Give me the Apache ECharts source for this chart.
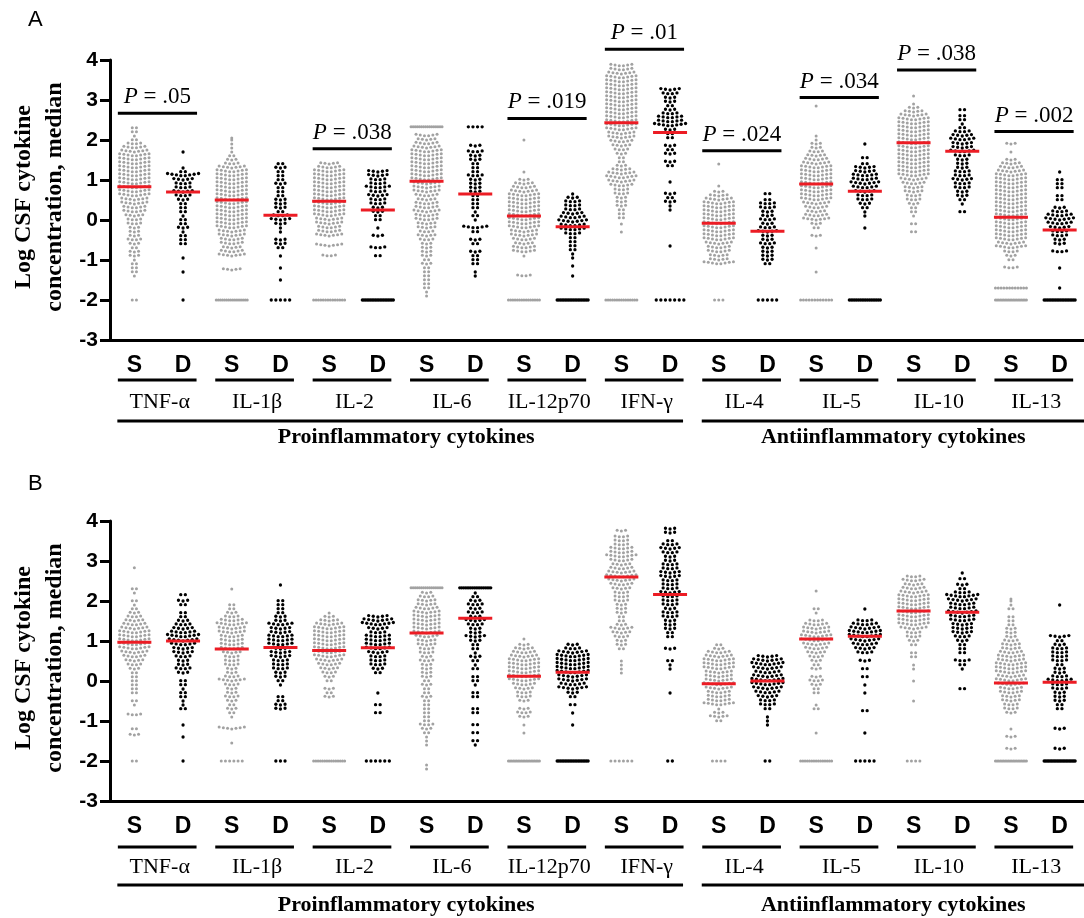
<!DOCTYPE html>
<html><head><meta charset="utf-8">
<script src="https://cdn.jsdelivr.net/npm/echarts@6/dist/echarts.min.js"></script>
<style>html,body{margin:0;padding:0;background:#fff}#c{width:1084px;height:918px}</style>
</head><body><div id="c"></div><script>
// ---------- DATA ----------
const cytokines = ['TNF-α','IL-1β','IL-2','IL-6','IL-12p70','IFN-γ','IL-4','IL-5','IL-10','IL-13'];
const groupLabels = ['S','D'];
const classNames = ['Proinflammatory cytokines','Antiinflammatory cytokines'];
const classStart = [0, 6];
const classEnd = [5, 9];
const yMin = -3, yMax = 4;
const lowerLimit = -2, upperLimit = 2.33;

// each row: [log value, number of dots at that level]
const A_TNF_S=[[2.3,2],[2.2,2],[2.1,1],[2.0,2],[1.9,4],[1.8,6],[1.7,7],[1.6,8],[1.5,8],[1.4,8],[1.3,8],[1.2,8],[1.1,8],[1.0,8],[0.9,8],[0.8,8],[0.7,8],[0.6,8],[0.5,7],[0.4,7],[0.3,6],[0.2,6],[0.1,5],[0,4],[-0.1,4],[-0.2,3],[-0.3,3],[-0.4,3],[-0.5,4],[-0.6,3],[-0.7,2],[-0.8,3],[-0.9,3],[-1.0,1],[-1.1,2],[-1.2,2],[-1.3,2],[-1.4,1],[-2,2]];
const A_TNF_D=[[1.7,1],[1.3,1],[1.2,2],[1.1,8],[1.0,5],[0.9,4],[0.8,4],[0.7,5],[0.6,4],[0.5,3],[0.4,2],[0.3,2],[0.2,2],[0.1,1],[0,2],[-0.1,2],[-0.2,3],[-0.3,1],[-0.4,2],[-0.5,2],[-0.6,2],[-0.95,1],[-1.3,1],[-2,1]];
const A_IL1B_S=[[2.05,1],[2.0,1],[1.9,1],[1.8,1],[1.7,1],[1.6,2],[1.5,3],[1.4,4],[1.3,7],[1.2,8],[1.1,8],[1.0,8],[0.9,8],[0.8,8],[0.7,8],[0.6,8],[0.5,8],[0.4,8],[0.3,8],[0.2,8],[0.1,8],[0,8],[-0.1,8],[-0.2,8],[-0.3,7],[-0.4,7],[-0.5,6],[-0.6,6],[-0.7,5],[-0.8,6],[-0.9,7],[-1.25,5],[-2,16]];
const A_IL1B_D=[[1.4,2],[1.3,3],[1.2,2],[1.1,2],[1.0,2],[0.9,3],[0.8,2],[0.7,2],[0.6,2],[0.5,3],[0.4,3],[0.3,3],[0.2,2],[0.1,4],[0,5],[-0.1,3],[-0.2,1],[-0.3,1],[-0.5,3],[-0.6,3],[-0.7,2],[-0.9,1],[-1.2,1],[-1.5,1],[-2,5]];
const A_IL2_S=[[1.4,5],[1.3,6],[1.2,8],[1.1,8],[1.0,8],[0.9,8],[0.8,8],[0.7,8],[0.6,8],[0.5,8],[0.4,8],[0.3,8],[0.2,8],[0.1,8],[0,7],[-0.1,7],[-0.2,6],[-0.3,6],[-0.4,7],[-0.65,7],[-0.9,4],[-2,14]];
const A_IL2_D=[[1.2,5],[1.1,5],[1.0,4],[0.9,4],[0.8,6],[0.7,4],[0.6,5],[0.5,4],[0.4,4],[0.3,3],[0.2,3],[0.1,2],[0,2],[-0.2,1],[-0.4,3],[-0.7,4],[-0.9,2],[-2,20]];
const A_IL6_S=[[2.33,16],[2.1,6],[2.0,5],[1.9,6],[1.8,7],[1.7,8],[1.6,8],[1.5,8],[1.4,8],[1.3,8],[1.2,8],[1.1,8],[1.0,8],[0.9,7],[0.8,7],[0.7,7],[0.6,6],[0.5,5],[0.4,6],[0.3,6],[0.2,7],[0.1,6],[0,6],[-0.1,5],[-0.2,5],[-0.3,4],[-0.4,5],[-0.5,4],[-0.6,3],[-0.7,3],[-0.8,3],[-0.9,3],[-1.0,2],[-1.1,3],[-1.2,2],[-1.3,2],[-1.4,2],[-1.5,2],[-1.6,2],[-1.7,2],[-1.8,1],[-1.9,1]];
const A_IL6_D=[[2.33,4],[1.85,3],[1.7,4],[1.6,3],[1.5,3],[1.4,2],[1.3,2],[1.2,2],[1.1,4],[1.0,3],[0.9,3],[0.8,3],[0.7,3],[0.6,2],[0.5,2],[0.4,2],[0.3,2],[0.2,1],[0.1,2],[0,1],[-0.2,6],[-0.3,2],[-0.5,3],[-0.6,2],[-0.8,3],[-0.9,2],[-1.0,2],[-1.1,2],[-1.3,1],[-1.4,1]];
const A_IL12_S=[[2.0,1],[1.2,1],[1.0,3],[0.9,5],[0.8,6],[0.7,7],[0.6,8],[0.5,8],[0.4,8],[0.3,8],[0.2,8],[0.1,8],[0,8],[-0.1,8],[-0.2,8],[-0.3,7],[-0.4,7],[-0.5,6],[-0.6,5],[-0.7,6],[-0.8,6],[-0.9,1],[-1.4,4],[-2,15]];
const A_IL12_D=[[0.65,1],[0.55,3],[0.45,4],[0.35,4],[0.25,4],[0.15,5],[0.05,6],[-0.05,7],[-0.15,6],[-0.25,6],[-0.35,4],[-0.45,2],[-0.55,2],[-0.65,2],[-0.75,2],[-0.85,1],[-0.95,1],[-1.15,1],[-1.4,1],[-2,20]];
const A_IFNG_S=[[3.85,6],[3.75,6],[3.65,7],[3.55,8],[3.45,8],[3.35,8],[3.25,8],[3.15,8],[3.05,8],[2.95,8],[2.85,8],[2.75,8],[2.65,8],[2.55,8],[2.45,8],[2.35,8],[2.25,8],[2.15,7],[2.05,7],[1.95,6],[1.85,5],[1.75,4],[1.65,3],[1.55,2],[1.45,2],[1.35,3],[1.25,5],[1.15,7],[1.05,8],[0.95,7],[0.85,6],[0.75,4],[0.65,4],[0.55,3],[0.45,3],[0.35,3],[0.25,2],[0.15,2],[0.05,2],[-0.1,1],[-0.3,1],[-2,15]];
const A_IFNG_D=[[3.25,5],[3.15,4],[3.05,3],[2.95,3],[2.85,2],[2.75,3],[2.65,4],[2.55,6],[2.45,6],[2.35,8],[2.25,3],[2.15,2],[2.05,2],[1.85,3],[1.75,2],[1.65,3],[1.45,3],[1.35,2],[0.95,1],[0.65,3],[0.55,2],[0.45,3],[0.35,1],[0.25,1],[-0.65,1],[-2,7]];
const A_IL4_S=[[1.4,1],[0.85,1],[0.7,3],[0.6,5],[0.5,7],[0.4,8],[0.3,8],[0.2,8],[0.1,8],[0,8],[-0.1,8],[-0.2,8],[-0.3,8],[-0.4,8],[-0.5,8],[-0.6,7],[-0.7,6],[-0.8,6],[-0.9,5],[-1.0,5],[-1.1,8],[-2,3]];
const A_IL4_D=[[0.65,2],[0.5,2],[0.4,4],[0.3,4],[0.2,3],[0.1,3],[0,4],[-0.1,3],[-0.2,4],[-0.3,5],[-0.4,3],[-0.5,3],[-0.6,4],[-0.7,3],[-0.8,3],[-0.9,3],[-1.0,3],[-1.1,2],[-2,5]];
const A_IL5_S=[[2.85,1],[2.1,1],[2.0,1],[1.9,3],[1.8,3],[1.7,4],[1.6,5],[1.5,6],[1.4,7],[1.3,8],[1.2,8],[1.1,8],[1.0,8],[0.9,8],[0.8,8],[0.7,8],[0.6,8],[0.5,8],[0.4,7],[0.3,6],[0.2,5],[0.1,6],[0,7],[-0.1,3],[-0.2,2],[-0.4,3],[-0.7,1],[-1.3,1],[-2,12]];
const A_IL5_D=[[1.9,1],[1.55,2],[1.4,2],[1.3,5],[1.2,5],[1.1,6],[1.0,6],[0.9,7],[0.8,6],[0.7,5],[0.6,4],[0.5,4],[0.4,3],[0.3,2],[0.2,1],[0.1,1],[-0.2,1],[-2,18]];
const A_IL10_S=[[3.1,1],[2.9,1],[2.8,3],[2.7,5],[2.6,7],[2.5,8],[2.4,8],[2.3,8],[2.2,8],[2.1,8],[2.0,8],[1.9,8],[1.8,8],[1.7,8],[1.6,8],[1.5,8],[1.4,8],[1.3,8],[1.2,8],[1.1,8],[1.0,7],[0.9,6],[0.8,5],[0.7,5],[0.6,4],[0.5,4],[0.4,3],[0.3,2],[0.2,2],[0.1,1],[-0.1,2],[-0.3,2]];
const A_IL10_D=[[2.75,2],[2.6,2],[2.5,2],[2.4,1],[2.3,2],[2.2,4],[2.1,5],[2.0,6],[1.9,5],[1.8,5],[1.7,6],[1.6,4],[1.5,3],[1.4,3],[1.3,3],[1.2,4],[1.1,4],[1.0,5],[0.9,4],[0.8,4],[0.7,3],[0.6,3],[0.5,2],[0.4,1],[0.2,2]];
const A_IL13_S=[[1.9,3],[1.7,1],[1.5,3],[1.4,5],[1.3,6],[1.2,7],[1.1,8],[1.0,8],[0.9,8],[0.8,8],[0.7,8],[0.6,8],[0.5,8],[0.4,8],[0.3,8],[0.2,8],[0.1,8],[0,8],[-0.1,8],[-0.2,8],[-0.3,8],[-0.4,8],[-0.5,8],[-0.6,7],[-0.7,8],[-0.8,4],[-0.9,3],[-1.0,2],[-1.2,4],[-1.7,12],[-2,20]];
const A_IL13_D=[[1.2,1],[1.0,2],[0.9,2],[0.8,2],[0.6,2],[0.5,2],[0.3,3],[0.2,4],[0.1,6],[0,7],[-0.1,6],[-0.2,5],[-0.3,4],[-0.4,4],[-0.5,3],[-0.6,3],[-0.8,4],[-1.2,1],[-1.7,1],[-2,20]];

const B_TNF_S=[[2.83,1],[2.3,2],[2.2,1],[2.0,2],[1.9,1],[1.8,2],[1.7,3],[1.6,4],[1.5,5],[1.4,6],[1.3,7],[1.2,8],[1.1,8],[1.0,8],[0.9,8],[0.8,8],[0.7,7],[0.6,6],[0.5,5],[0.4,4],[0.3,3],[0.2,2],[0.1,2],[0,2],[-0.1,2],[-0.2,2],[-0.3,2],[-0.5,2],[-0.6,1],[-0.85,4],[-1.2,2],[-1.35,3],[-2,2]];
const B_TNF_D=[[2.15,2],[2.0,3],[1.9,2],[1.7,2],[1.6,2],[1.5,3],[1.4,4],[1.3,5],[1.2,6],[1.1,8],[1.0,7],[0.9,6],[0.8,5],[0.7,5],[0.6,4],[0.5,3],[0.4,3],[0.3,4],[0.2,3],[0,2],[-0.1,2],[-0.2,1],[-0.3,2],[-0.4,2],[-0.5,1],[-0.6,1],[-0.7,2],[-1.1,1],[-1.4,1],[-2,1]];
const B_IL1B_S=[[2.3,1],[1.9,2],[1.8,2],[1.7,3],[1.6,4],[1.5,6],[1.4,8],[1.3,7],[1.2,7],[1.1,6],[1.0,6],[0.9,6],[0.8,6],[0.7,5],[0.6,4],[0.5,4],[0.4,4],[0.3,3],[0.2,3],[0.1,4],[0,7],[-0.1,4],[-0.2,3],[-0.3,3],[-0.4,4],[-0.5,3],[-0.6,2],[-0.7,3],[-0.8,2],[-0.9,1],[-1.2,7],[-1.55,1],[-2,6]];
const B_IL1B_D=[[2.4,1],[2.0,2],[1.9,2],[1.8,2],[1.7,2],[1.6,3],[1.5,3],[1.4,6],[1.3,5],[1.2,5],[1.1,6],[1.0,6],[0.9,6],[0.8,5],[0.7,5],[0.6,5],[0.5,4],[0.4,4],[0.3,4],[0.2,3],[0.1,3],[0,2],[-0.1,1],[-0.4,2],[-0.5,2],[-0.6,3],[-0.7,3],[-2,3]];
const B_IL2_S=[[1.7,1],[1.6,3],[1.5,5],[1.4,7],[1.3,8],[1.2,8],[1.1,8],[1.0,8],[0.9,8],[0.8,8],[0.7,8],[0.6,8],[0.5,7],[0.4,6],[0.3,5],[0.2,4],[0.1,3],[0,2],[-0.2,3],[-0.3,2],[-0.4,3],[-2,15]];
const B_IL2_D=[[1.6,5],[1.5,7],[1.4,8],[1.3,5],[1.2,4],[1.1,6],[1.0,6],[0.9,6],[0.8,6],[0.7,5],[0.6,4],[0.5,4],[0.4,4],[0.3,3],[0.2,2],[-0.3,1],[-0.6,2],[-0.8,2],[-2,6]];
const B_IL6_S=[[2.33,16],[2.2,3],[2.1,4],[2.0,5],[1.9,5],[1.8,6],[1.7,7],[1.6,7],[1.5,7],[1.4,7],[1.3,7],[1.2,7],[1.1,6],[1.0,5],[0.9,5],[0.8,4],[0.7,4],[0.6,3],[0.5,4],[0.4,3],[0.3,3],[0.2,3],[0.1,3],[0,2],[-0.1,3],[-0.2,2],[-0.3,2],[-0.4,3],[-0.5,2],[-0.6,2],[-0.7,2],[-0.8,2],[-0.9,2],[-1.0,2],[-1.1,4],[-1.2,3],[-1.3,2],[-1.4,1],[-1.5,1],[-1.6,1],[-2.1,1],[-2.2,1]];
const B_IL6_D=[[2.33,18],[2.2,1],[2.1,2],[2.0,3],[1.9,4],[1.8,3],[1.7,4],[1.6,3],[1.5,5],[1.4,4],[1.3,3],[1.2,3],[1.1,5],[1.0,3],[0.9,2],[0.8,2],[0.7,1],[0.6,3],[0.5,2],[0.4,1],[0.3,2],[0.1,2],[0,2],[-0.1,1],[-0.3,2],[-0.4,2],[-0.7,2],[-0.8,2],[-1.1,2],[-1.3,2],[-1.5,2],[-1.6,1]];
const B_IL12_S=[[1.05,1],[0.9,3],[0.8,5],[0.7,6],[0.6,7],[0.5,8],[0.4,8],[0.3,8],[0.2,8],[0.1,8],[0,8],[-0.1,6],[-0.2,5],[-0.3,4],[-0.4,4],[-0.5,3],[-0.7,3],[-0.8,4],[-0.9,3],[-1.1,1],[-1.3,1],[-2,20]];
const B_IL12_D=[[0.9,3],[0.8,4],[0.7,7],[0.6,8],[0.5,8],[0.4,8],[0.3,8],[0.2,8],[0.1,7],[0,7],[-0.1,6],[-0.2,7],[-0.3,3],[-0.4,2],[-0.6,2],[-0.8,1],[-1.1,1],[-2,20]];
const B_IFNG_S=[[3.75,3],[3.6,4],[3.5,4],[3.4,4],[3.3,6],[3.2,6],[3.1,8],[3.0,6],[2.9,5],[2.8,6],[2.7,7],[2.6,8],[2.5,7],[2.4,6],[2.3,5],[2.2,4],[2.1,4],[2.0,4],[1.9,3],[1.8,3],[1.7,3],[1.6,2],[1.5,2],[1.4,3],[1.3,6],[1.2,5],[1.1,4],[1.0,3],[0.9,3],[0.8,2],[0.5,1],[0.4,1],[0.3,1],[0.2,1],[-2,6]];
const B_IFNG_D=[[3.8,3],[3.7,3],[3.5,2],[3.4,4],[3.3,5],[3.2,4],[3.1,3],[3.0,3],[2.9,4],[2.8,4],[2.7,5],[2.6,5],[2.5,4],[2.4,4],[2.3,4],[2.2,5],[2.1,4],[2.0,4],[1.9,4],[1.8,3],[1.7,4],[1.6,4],[1.5,3],[1.4,3],[1.3,3],[1.2,2],[1.1,2],[0.8,3],[0.5,2],[0.4,1],[0.3,1],[-0.3,1],[-2,2]];
const B_IL4_S=[[0.9,2],[0.8,3],[0.7,6],[0.6,7],[0.5,8],[0.4,8],[0.3,8],[0.2,7],[0.1,7],[0,7],[-0.1,8],[-0.2,7],[-0.3,6],[-0.4,6],[-0.5,6],[-0.6,8],[-0.7,1],[-0.8,3],[-0.9,5],[-1.0,2],[-2,4]];
const B_IL4_D=[[0.6,5],[0.5,7],[0.4,8],[0.3,7],[0.2,6],[0.1,7],[0,8],[-0.1,8],[-0.2,7],[-0.3,6],[-0.4,5],[-0.5,4],[-0.6,4],[-0.7,2],[-0.9,1],[-1.0,1],[-1.1,1],[-2,2]];
const B_IL5_S=[[2.25,1],[1.8,2],[1.7,1],[1.5,4],[1.4,6],[1.3,7],[1.2,7],[1.1,8],[1.0,8],[0.9,7],[0.8,6],[0.7,5],[0.6,4],[0.5,3],[0.4,2],[0.3,3],[0.1,3],[0,4],[-0.1,3],[-0.2,2],[-0.3,2],[-0.6,1],[-0.7,2],[-1.3,1],[-2,15]];
const B_IL5_D=[[1.8,1],[1.5,4],[1.4,6],[1.3,7],[1.2,8],[1.1,8],[1.0,7],[0.9,6],[0.8,5],[0.7,4],[0.5,3],[0.3,2],[0.1,2],[-0.1,1],[-0.3,1],[-0.75,2],[-1.3,1],[-2,5]];
const B_IL10_S=[[2.6,4],[2.5,6],[2.4,5],[2.3,6],[2.2,7],[2.1,8],[2.0,8],[1.9,8],[1.8,8],[1.7,8],[1.6,8],[1.5,8],[1.4,8],[1.3,7],[1.2,4],[1.1,4],[1.0,3],[0.9,2],[0.7,2],[0.6,2],[0.4,1],[0.3,1],[0,1],[-0.5,1],[-2,4]];
const B_IL10_D=[[2.7,1],[2.55,2],[2.4,3],[2.3,2],[2.2,4],[2.1,8],[2.0,7],[1.9,6],[1.8,6],[1.7,7],[1.6,6],[1.5,6],[1.4,5],[1.3,5],[1.2,5],[1.1,4],[1.0,3],[0.9,2],[0.8,2],[0.7,2],[0.5,4],[0.4,2],[0.3,1],[-0.2,2]];
const B_IL13_S=[[2.05,1],[2.0,1],[1.9,1],[1.8,2],[1.6,2],[1.5,2],[1.4,2],[1.3,3],[1.2,3],[1.1,3],[1.0,4],[0.9,5],[0.8,5],[0.7,6],[0.6,7],[0.5,7],[0.4,8],[0.3,8],[0.2,8],[0.1,7],[0,8],[-0.1,7],[-0.2,6],[-0.3,6],[-0.4,5],[-0.5,5],[-0.6,4],[-0.7,4],[-0.8,3],[-1.2,1],[-1.4,3],[-1.7,3],[-2,20]];
const B_IL13_D=[[1.9,1],[1.1,5],[1.0,2],[0.9,3],[0.8,4],[0.7,4],[0.6,4],[0.5,4],[0.4,2],[0.3,3],[0.2,3],[0.1,4],[0,6],[-0.1,4],[-0.2,4],[-0.3,3],[-0.4,3],[-0.5,3],[-0.6,2],[-0.7,2],[-1.2,3],[-1.7,3],[-2,22]];

// medians (red bars)
const medianA_S = [0.83,0.50,0.47,0.97,0.10,2.43,-0.08,0.90,1.93,0.07];
const medianA_D = [0.70,0.12,0.25,0.65,-0.17,2.19,-0.28,0.72,1.72,-0.25];
const medianB_S = [0.97,0.80,0.76,1.20,0.12,2.60,-0.07,1.05,1.75,-0.05];
const medianB_D = [1.00,0.84,0.83,1.57,0.22,2.16,0.00,1.12,1.72,-0.03];

// P-value annotations (panel A): cytokine index, text, bar level (log units)
const pCyto = [0,2,4,5,6,7,8,9];
const pText = ['.05','.038','.019','.01','.024','.034','.038','.002'];
const pLevel = [2.67,1.78,2.54,4.27,1.73,3.06,3.75,2.21];

// ---------- CHART ----------
const SERIF = '"Liberation Serif","Times New Roman",serif';
const SANS = '"Liberation Sans",Arial,sans-serif';
const xCats = [];
cytokines.forEach(() => groupLabels.forEach(g => xCats.push(g)));

const panels = [
  {S:[A_TNF_S,A_IL1B_S,A_IL2_S,A_IL6_S,A_IL12_S,A_IFNG_S,A_IL4_S,A_IL5_S,A_IL10_S,A_IL13_S],
   D:[A_TNF_D,A_IL1B_D,A_IL2_D,A_IL6_D,A_IL12_D,A_IFNG_D,A_IL4_D,A_IL5_D,A_IL10_D,A_IL13_D],
   medS:medianA_S, medD:medianA_D, top:60, off:{u:40,n:62,l:81,g:97}, letter:'A', letterY:19},
  {S:[B_TNF_S,B_IL1B_S,B_IL2_S,B_IL6_S,B_IL12_S,B_IFNG_S,B_IL4_S,B_IL5_S,B_IL10_S,B_IL13_S],
   D:[B_TNF_D,B_IL1B_D,B_IL2_D,B_IL6_D,B_IL12_D,B_IFNG_D,B_IL4_D,B_IL5_D,B_IL10_D,B_IL13_D],
   medS:medianB_S, medD:medianB_D, top:521, off:{u:46,n:66,l:84,g:104}, letter:'B', letterY:483}
];

function dotRender(params, api) {
  const xi = api.value(0), v = api.value(1), n = api.value(2), dark = api.value(3);
  const c = api.coord([xi, v]);
  const base = dark ? 4.6 : 4.2;
  const step = n > 1 ? Math.min(base, 31 / (n - 1)) : 0;
  const r = dark ? 1.65 : 1.5;
  const fill = dark ? '#000' : '#a2a2a2';
  const children = [];
  const atLimit = Math.abs(v - lowerLimit) < 1e-6 || Math.abs(v - upperLimit) < 1e-6;
  const bow = (n <= 8 && !atLimit) ? 0.16 : 0;
  for (let k = 0; k < n; k++) {
    const dx = (k - (n - 1) / 2) * step;
    children.push({type:'circle', shape:{cx:c[0] + dx, cy:c[1] - Math.abs(dx) * bow, r:r}, style:{fill:fill}});
  }
  return {type:'group', children:children};
}
function medRender(params, api) {
  const c = api.coord([api.value(0), api.value(1)]);
  return {type:'rect', shape:{x:c[0]-17, y:c[1]-1.5, width:34, height:3}, style:{fill:'#ec1c24'}};
}
function pRender(params, api) {
  const ci = api.value(2);
  const a = api.coord([2*ci, api.value(1)]);
  const b = api.coord([2*ci+1, api.value(1)]);
  const x0 = a[0]-16.5, x1 = b[0]+14;
  return {type:'group', children:[
    {type:'rect', shape:{x:x0, y:a[1]-1.5, width:x1-x0, height:3}, style:{fill:'#000'}},
    {type:'text', x:(x0+x1)/2, y:a[1]-16, style:{
      text:'{i|P}{n| = ' + pText[params.dataIndex] + '}',
      align:'center', verticalAlign:'middle',
      rich:{i:{fontFamily:SERIF, fontSize:23, fontStyle:'italic', fill:'#000'},
            n:{fontFamily:SERIF, fontSize:23, fill:'#000'}}}}
  ]};
}
function makeDecor(off) {
  return function(params, api) {
    const ci = api.value(2);
    const a = api.coord([2*ci, yMin]);
    const b = api.coord([2*ci+1, yMin]);
    const x0 = a[0]-16.5, x1 = b[0]+13.5;
    return {type:'group', children:[
      {type:'rect', shape:{x:x0, y:a[1]+off.u-1.5, width:x1-x0, height:3}, style:{fill:'#000'}},
      {type:'text', x:(a[0]+b[0])/2+1, y:a[1]+off.n, style:{text:cytokines[ci], align:'center', verticalAlign:'middle',
        font:'22px ' + SERIF, fill:'#000'}}
    ]};
  };
}
function makeClass(off) {
  return function(params, api) {
    const gi = api.value(2);
    const a = api.coord([2*classStart[gi], yMin]);
    const b = api.coord([2*classEnd[gi]+1, yMin]);
    const x0 = a[0]-17, x1 = (gi === classNames.length-1) ? b[0]+60 : b[0]+13;
    return {type:'group', children:[
      {type:'rect', shape:{x:x0, y:a[1]+off.l-1.5, width:x1-x0, height:3}, style:{fill:'#000'}},
      {type:'text', x:(a[0]+b[0])/2+4, y:a[1]+off.g, style:{text:classNames[gi], align:'center', verticalAlign:'middle',
        font:'bold 22px ' + SERIF, fill:'#000'}}
    ]};
  };
}

const grids = [], xAxes = [], yAxes = [], series = [], graphics = [];
panels.forEach((p, pi) => {
  grids.push({left:110, top:p.top, width:984, height:280, containLabel:false});
  xAxes.push({type:'category', gridIndex:pi, data:xCats, boundaryGap:true,
    axisLine:{onZero:false, lineStyle:{color:'#000', width:3}},
    axisTick:{alignWithLabel:true, length:10, lineStyle:{color:'#000', width:3}},
    axisLabel:{interval:0, margin:14, color:'#000', fontFamily:SANS, fontWeight:'bold', fontSize:23},
    splitLine:{show:false}});
  yAxes.push({type:'value', gridIndex:pi, min:yMin, max:yMax, interval:1,
    axisLine:{show:true, lineStyle:{color:'#000', width:3}},
    axisTick:{show:true, length:10, lineStyle:{color:'#000', width:3}},
    axisLabel:{margin:12, color:'#000', fontFamily:SANS, fontWeight:'bold', fontSize:21},
    splitLine:{show:false}});
  const dots = [], meds = [];
  cytokines.forEach((c, ci) => {
    [p.S[ci], p.D[ci]].forEach((rows, g) => {
      rows.forEach(r => dots.push([2*ci+g, r[0], r[1], g]));
    });
    meds.push([2*ci, p.medS[ci]]);
    meds.push([2*ci+1, p.medD[ci]]);
  });
  series.push({type:'custom', xAxisIndex:pi, yAxisIndex:pi, renderItem:dotRender, data:dots, clip:false, silent:true, z:3});
  series.push({type:'custom', xAxisIndex:pi, yAxisIndex:pi, renderItem:medRender, data:meds, clip:false, silent:true, z:4});
  series.push({type:'custom', xAxisIndex:pi, yAxisIndex:pi, renderItem:makeDecor(p.off),
    data:cytokines.map((c, ci) => [2*ci, yMin, ci]), clip:false, silent:true, z:5});
  series.push({type:'custom', xAxisIndex:pi, yAxisIndex:pi, renderItem:makeClass(p.off),
    data:classNames.map((c, gi) => [2*classStart[gi], yMin, gi]), clip:false, silent:true, z:5});
  if (pi === 0) {
    series.push({type:'custom', xAxisIndex:pi, yAxisIndex:pi, renderItem:pRender,
      data:pCyto.map((ci, k) => [2*ci, pLevel[k], ci]), clip:false, silent:true, z:5});
  }
  graphics.push({type:'text', left:28, top:p.letterY-10, style:{text:p.letter, font:'22px ' + SANS, fill:'#000'}});
  graphics.push({type:'text', x:39, y:p.top+137, rotation:Math.PI/2, style:{
    text:'Log CSF cytokine\nconcentration, median', align:'center', verticalAlign:'middle',
    font:'bold 24px ' + SERIF, lineHeight:31, fill:'#000'}});
});

const chart = echarts.init(document.getElementById('c'), null, {renderer:'canvas'});
chart.setOption({
  animation:false,
  backgroundColor:'#fff',
  grid:grids, xAxis:xAxes, yAxis:yAxes, series:series, graphic:graphics
});
</script></body></html>
